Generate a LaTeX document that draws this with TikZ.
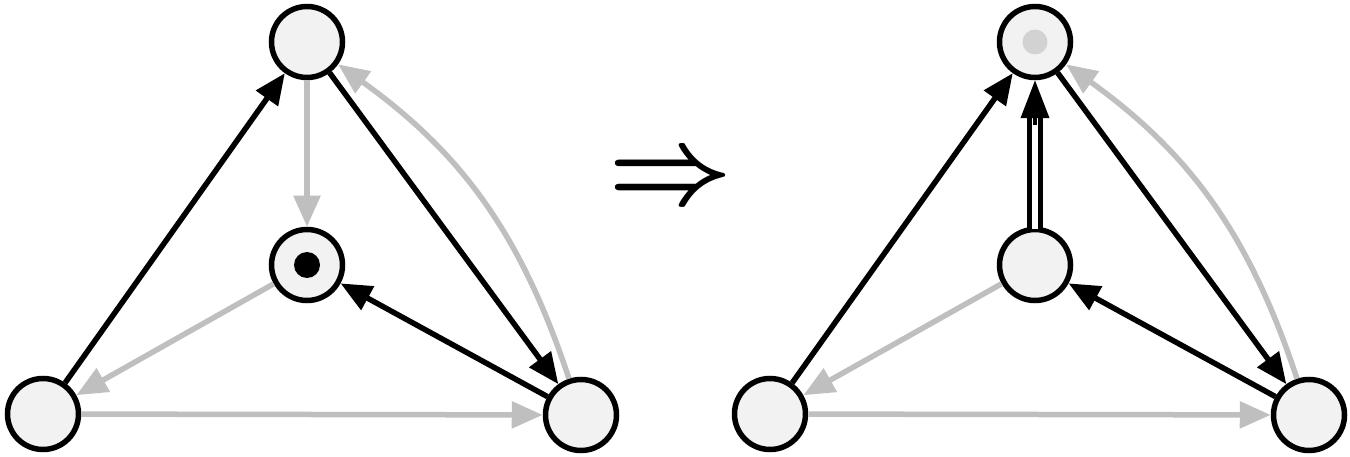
\documentclass[tikz,border=0pt]{standalone}
\usepackage{graphicx}
\usetikzlibrary{arrows.meta,calc}
\definecolor{nodefill}{RGB}{242,242,242}
\definecolor{edgegray}{RGB}{191,191,191}
\definecolor{dotgray}{RGB}{210,210,210}
\begin{document}
\begin{tikzpicture}[x=1pt,y=-1pt,
  vtx/.style={circle,draw=black,line width=5.5pt,fill=nodefill,minimum size=71pt,inner sep=0pt},
  blk/.style={draw=black,line width=5.5pt,-{Triangle[length=31pt,width=26pt]}},
  gry/.style={draw=edgegray,line width=5.5pt,-{Triangle[length=31pt,width=26pt]}},
]
\useasboundingbox (0,0) rectangle (1350,457);
% left graph
\node[vtx] (Lt) at (307,42) {};
\node[vtx] (Lc) at (307,265) {};
\node[vtx] (Ll) at (43,414) {};
\node[vtx] (Lr) at (581,415) {};
\fill[black] (Lc) circle (13);
\draw[blk] (Ll) -- (Lt);
\draw[gry] (Lt) -- (Lc);
\draw[blk] (Lt) -- (Lr);
\draw[blk] (Lr) -- (Lc);
\draw[gry] (Lc) -- (Ll);
\draw[gry] (Ll) -- (Lr);
\draw[gry] (Lr) to[bend right=18] (Lt);
% implication
\node[inner sep=0pt] (imp) at (671,181) {\scalebox{10.8}{\boldmath$\Rightarrow$}};
% right graph
\node[vtx] (Rt) at (1035,42) {};
\node[vtx] (Rc) at (1035,265) {};
\node[vtx] (Rl) at (770,414) {};
\node[vtx] (Rr) at (1309,415) {};
\fill[dotgray] (Rt) circle (12.5);
\draw[blk] (Rl) -- (Rt);
\draw[blk] (Rt) -- (Rr);
\draw[blk] (Rr) -- (Rc);
\draw[gry] (Rc) -- (Rl);
\draw[gry] (Rl) -- (Rr);
\draw[gry] (Rr) to[bend right=18] (Rt);
\draw[black,line width=4.5pt,double=white,double distance=6.5pt,shorten <=-2pt,shorten >=36pt] (Rc) -- (Rt);
\draw[black,line width=4pt,-{Triangle[length=38pt,width=28pt]}] ($(Rt.south)+(0,45)$) -- (Rt);
\end{tikzpicture}
\end{document}
